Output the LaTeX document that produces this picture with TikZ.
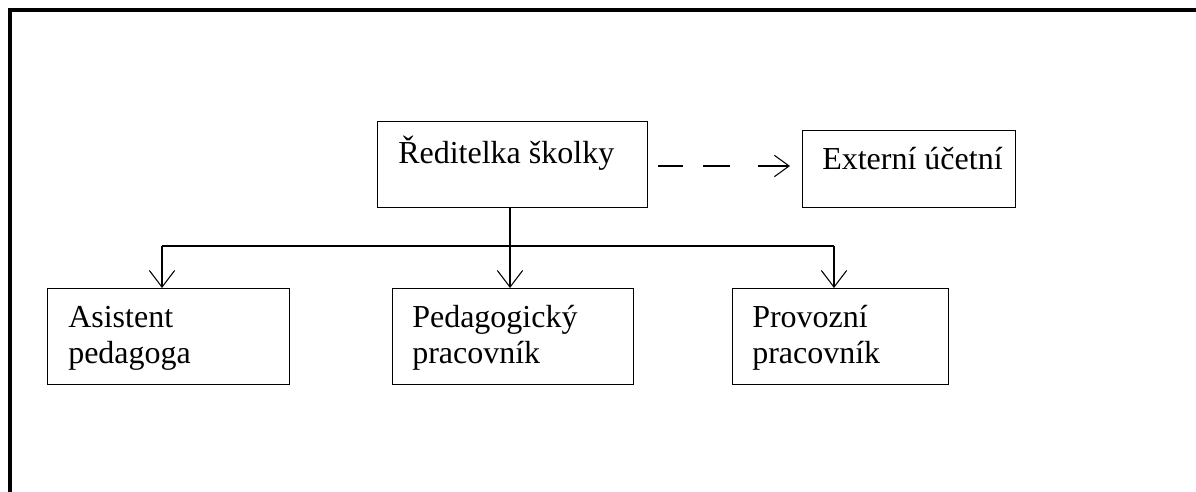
\documentclass[tikz,border=0pt]{standalone}
\usepackage{fontspec}
\setmainfont{Liberation Serif}
\usetikzlibrary{arrows.meta,calc}
\begin{document}
\begin{tikzpicture}[x=0.75pt,y=-0.75pt,
  box/.style={draw,line width=0.8pt,anchor=north west,inner sep=0pt},
  lbl/.style={anchor=base west,inner sep=0pt,font=\fontsize{24}{27}\selectfont,align=left},
  conn/.style={line width=0.8pt},
  arr/.style={conn,-{Straight Barb[length=12.5pt,width=19pt,line width=0.8pt]}},
  dasharr/.style={conn,dash pattern=on 18.75pt off 15pt on 20.25pt off 21pt on 30pt off 7.5pt,
    -{Straight Barb[length=11pt,width=16pt,line width=0.8pt]}},
  frame/.style={line width=3.4pt}]
\useasboundingbox (0,0) rectangle (1196,492);
\draw[frame] (1220,10) -- (10,10) -- (10,520);

% boxes
\node[box,minimum width=202.5pt,minimum height=64.5pt] (red) at (377,121) {};
\node[box,minimum width=159.75pt,minimum height=57.75pt] (ext) at (802,130) {};
\node[box,minimum width=181.5pt,minimum height=72pt] (asi) at (47,288) {};
\node[box,minimum width=180.75pt,minimum height=72pt] (ped) at (392,288) {};
\node[box,minimum width=162pt,minimum height=72pt] (pro) at (732,288) {};

% labels (multi-line nodes: base anchor is on the last line)
\node[lbl] (tred) at (398,163) {Ředitelka školky};
\node[lbl] (text) at (822,169) {Externí účetní};
\node[lbl] (tasi) at (68,363) {Asistent\\pedagoga};
\node[lbl] (tped) at (412,363) {Pedagogický\\pracovník};
\node[lbl] (tpro) at (752,363) {Provozní\\pracovník};

% connectors
\coordinate (ta) at (162,288);
\coordinate (tp) at (510,288);
\coordinate (tv) at (834,288);
\coordinate (bus) at (510,246);
\draw[conn] (red.south -| bus) -- (bus);
\draw[conn] (bus -| ta) -- (bus -| tv);
\draw[arr] (bus -| ta) -- (ta);
\draw[arr] (bus) -- (tp);
\draw[arr] (bus -| tv) -- (tv);

\coordinate (d1) at (658,166);
\draw[dasharr] (d1) -- (d1 -| ext.west) [shorten >=9pt];
\end{tikzpicture}
\end{document}
